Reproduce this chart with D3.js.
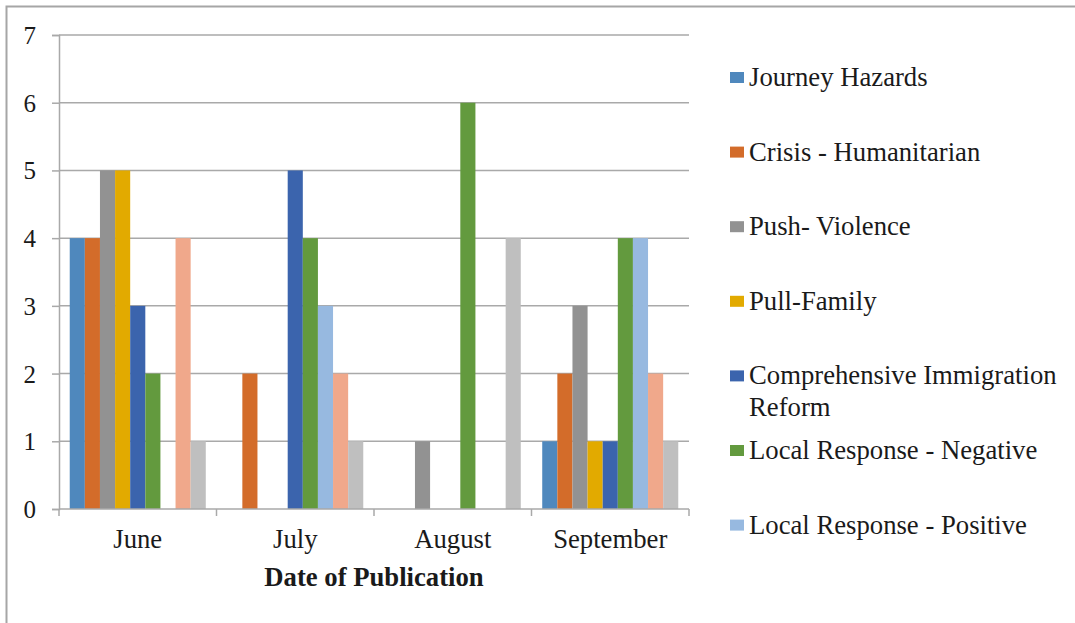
<!DOCTYPE html>
<html>
<head>
<meta charset="utf-8">
<script src="https://cdn.jsdelivr.net/npm/d3@7"></script>
<style>
  html, body { margin: 0; padding: 0; background: #fff; }
  svg { display: block; }
  svg text { font-family: 'Liberation Serif', Tinos, 'Times New Roman', Times, serif; fill: #1a1a1a; }
</style>
</head>
<body>
<svg id="chart" width="1075" height="623"></svg>
<script>
// ---- data ----
const months = ["June", "July", "August", "September"];
const seriesNames = [
  "Journey Hazards",
  "Crisis - Humanitarian",
  "Push- Violence",
  "Pull-Family",
  "Comprehensive Immigration Reform",
  "Local Response - Negative",
  "Local Response - Positive",
  "Series 8",
  "Series 9"
];
const journeyHazards      = [4, 0, 0, 1];
const crisisHumanitarian  = [4, 2, 0, 2];
const pushViolence        = [5, 0, 1, 3];
const pullFamily          = [5, 0, 0, 1];
const comprehensiveReform = [3, 5, 0, 1];
const localNegative       = [2, 4, 6, 4];
const localPositive       = [0, 3, 0, 4];
const series8             = [4, 2, 0, 2];
const series9             = [1, 1, 4, 1];
const yTicks = [0, 1, 2, 3, 4, 5, 6, 7];
const xTitle = "Date of Publication";
const legendLines = [
  ["Journey Hazards"],
  ["Crisis - Humanitarian"],
  ["Push- Violence"],
  ["Pull-Family"],
  ["Comprehensive Immigration", "Reform"],
  ["Local Response - Negative"],
  ["Local Response - Positive"]
];
const colors = ["#4f88bd", "#d36c2a", "#929292", "#e2aa00", "#3b64ad",
                "#639a3e", "#97b9e0", "#f0a88b", "#bfbfbf"];

const allValues = [journeyHazards, crisisHumanitarian, pushViolence, pullFamily,
  comprehensiveReform, localNegative, localPositive, series8, series9];

// ---- layout ----
const svg = d3.select("#chart");
const plot = { left: 59, right: 689, top: 35, bottom: 509 };
const gridColor = "#a9a9a9";
const FONT = "'Liberation Serif', Tinos, 'Times New Roman', Times, serif";
const FS = 26.7;

svg.append("rect")
  .attr("x", 6.5).attr("y", 6.5)
  .attr("width", 1200).attr("height", 800)
  .attr("fill", "none").attr("stroke", "#a6a6a6").attr("stroke-width", 2);

const x = d3.scaleBand().domain(months).range([plot.left, plot.right]).paddingInner(0).paddingOuter(0);
const xs = d3.scaleBand().domain(d3.range(seriesNames.length)).range([0, x.bandwidth()])
  .paddingInner(0).paddingOuter(0.71);
const y = d3.scaleLinear().domain([0, 7]).range([plot.bottom, plot.top]);

svg.append("g").selectAll("line").data(yTicks.filter(d => d > 0)).join("line")
  .attr("x1", plot.left).attr("x2", plot.right)
  .attr("y1", d => y(d)).attr("y2", d => y(d))
  .attr("stroke", gridColor).attr("stroke-width", 1.5);

const gBars = svg.append("g");
allValues.forEach((vals, si) => {
  gBars.append("g").selectAll("rect").data(vals.map((v, i) => ({ m: months[i], v }))).join("rect")
    .attr("x", d => x(d.m) + xs(si))
    .attr("width", xs.bandwidth())
    .attr("y", d => y(d.v))
    .attr("height", d => y(0) - y(d.v))
    .attr("fill", colors[si]);
});

const yAxis = d3.axisLeft(y).tickValues(yTicks).tickSize(7).tickPadding(16).tickFormat(d3.format("d"));
const gy = svg.append("g").attr("transform", `translate(${plot.left},0)`).call(yAxis);
gy.attr("font-family", FONT);
gy.select(".domain").attr("stroke", gridColor).attr("stroke-width", 1.5);
gy.selectAll(".tick line").attr("stroke", gridColor).attr("stroke-width", 1.5);
gy.selectAll(".tick text").attr("font-size", 25).attr("font-family", FONT)
  .attr("fill", "#1a1a1a").attr("dy", "0.34em");

svg.append("line").attr("x1", plot.left).attr("x2", plot.right)
  .attr("y1", plot.bottom).attr("y2", plot.bottom)
  .attr("stroke", gridColor).attr("stroke-width", 1.5);
const boundaries = months.map(m => x(m)).concat([plot.right]);
svg.append("g").selectAll("line").data(boundaries).join("line")
  .attr("x1", d => d).attr("x2", d => d)
  .attr("y1", plot.bottom).attr("y2", plot.bottom + 7)
  .attr("stroke", gridColor).attr("stroke-width", 1.5);
svg.append("g").selectAll("text").data(months).join("text")
  .attr("x", d => x(d) + x.bandwidth() / 2)
  .attr("y", 548)
  .attr("text-anchor", "middle")
  .attr("font-family", FONT)
  .attr("font-size", FS)
  .text(d => d);

svg.append("text")
  .attr("x", (plot.left + plot.right) / 2)
  .attr("y", 586)
  .attr("text-anchor", "middle")
  .attr("font-family", FONT)
  .attr("font-size", FS)
  .attr("font-weight", "bold")
  .text(xTitle);

const legend = svg.append("g");
const legBase = 86, legStep = 74.6;
legendLines.forEach((lines, i) => {
  const by = legBase + i * legStep;
  legend.append("rect")
    .attr("x", 730).attr("y", by - 14)
    .attr("width", 14).attr("height", 11)
    .attr("fill", colors[i]);
  const t = legend.append("text").attr("x", 749).attr("y", by)
    .attr("font-family", FONT).attr("font-size", FS);
  lines.forEach((ln, j) => {
    t.append("tspan").attr("x", 749).attr("dy", j === 0 ? 0 : 32).text(ln);
  });
});
</script>
</body>
</html>
